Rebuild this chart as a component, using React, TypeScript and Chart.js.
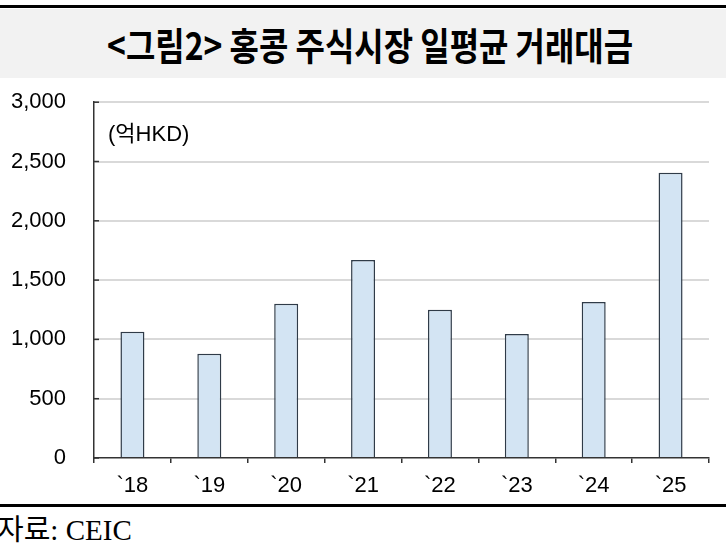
import React, { useEffect, useRef } from "react";
import { Chart, registerables } from "chart.js";

Chart.register(...registerables);

const categories = ["`18", "`19", "`20", "`21", "`22", "`23", "`24", "`25"];
const turnover = [1065, 880, 1300, 1670, 1250, 1045, 1315, 2405];
const yTicks = [0, 500, 1000, 1500, 2000, 2500, 3000];
const titleText = "<그림2> 홍콩 주식시장 일평균 거래대금";
const unitText = "(억HKD)";
const sourceText = "자료: CEIC";

const insideTicks = {
  id: "insideTicks",
  afterDatasetsDraw(chart: any) {
    const y = chart.scales.y;
    const ctx = chart.ctx;
    ctx.save();
    ctx.strokeStyle = "#333333";
    ctx.lineWidth = 1.5;
    for (const v of yTicks) {
      const py = y.getPixelForValue(v);
      ctx.beginPath();
      ctx.moveTo(chart.chartArea.left, py);
      ctx.lineTo(chart.chartArea.left + 5, py);
      ctx.stroke();
    }
    ctx.restore();
  },
};

const unitLabel = {
  id: "unitLabel",
  afterDraw(chart: any) {
    const ctx = chart.ctx;
    const y = chart.scales.y;
    ctx.save();
    ctx.font = "22px 'Liberation Sans', 'Noto Sans CJK KR', sans-serif";
    ctx.fillStyle = "#000";
    ctx.textBaseline = "middle";
    ctx.textAlign = "left";
    ctx.fillText(unitText, chart.chartArea.left + 14, y.getPixelForValue(2725));
    ctx.restore();
  },
};

export default function App() {
  const ref = useRef<HTMLCanvasElement>(null);
  useEffect(() => {
    if (!ref.current) return;
    const chart = new Chart(ref.current, {
      type: "bar",
      data: {
        labels: categories,
        datasets: [
          {
            data: turnover,
            backgroundColor: "#d3e4f3",
            borderColor: "#2f3b48",
            borderWidth: 1.5,
            categoryPercentage: 1,
            barPercentage: 0.312,
          },
        ],
      },
      options: {
        animation: false,
        responsive: false,
        maintainAspectRatio: false,
        layout: { padding: { top: 4, right: 17, left: 0, bottom: 0 } },
        plugins: { legend: { display: false }, tooltip: { enabled: false } },
        scales: {
          x: {
            grid: {
              display: true,
              drawOnChartArea: false,
              drawTicks: true,
              tickLength: 5,
              color: "#333333",
              lineWidth: 1.5,
              offset: true,
            },
            border: { display: true, color: "#333333", width: 1.5 },
            ticks: {
              color: "#000",
              padding: 10,
              font: { family: "'Liberation Sans', Arial, sans-serif", size: 22 },
            },
            afterFit(scale: any) {
              scale.height = 47;
            },
          },
          y: {
            min: 0,
            max: 3000,
            afterBuildTicks(scale: any) {
              scale.ticks = yTicks.map((v) => ({ value: v }));
            },
            grid: {
              drawTicks: false,
              color: (ctx: any) => (ctx.tick && ctx.tick.value === 0 ? "rgba(0,0,0,0)" : "#d9d9d9"),
              lineWidth: 2,
            },
            border: { display: true, color: "#333333", width: 1.5 },
            ticks: {
              color: "#000",
              padding: 28,
              font: { family: "'Liberation Sans', Arial, sans-serif", size: 22 },
              callback: (v: any) => Number(v).toLocaleString("en-US"),
            },
            afterFit(scale: any) {
              scale.width = 94;
            },
          },
        },
      },
      plugins: [insideTicks, unitLabel],
    });
    return () => chart.destroy();
  }, []);

  return (
    <div
      style={{
        position: "fixed",
        left: 0,
        top: 0,
        width: 726,
        height: 557,
        background: "#ffffff",
        overflow: "hidden",
      }}
    >
      <div style={{ position: "absolute", left: 0, top: 5, width: 726, height: 3, background: "#000" }} />
      <div
        style={{
          position: "absolute",
          left: 0,
          top: 9,
          width: 726,
          height: 69,
          background: "#f2f2f2",
          display: "flex",
          alignItems: "center",
          justifyContent: "center",
        }}
      >
        <span
          style={{
            fontFamily: "'Noto Sans CJK KR', sans-serif",
            fontWeight: 700,
            fontSize: 38,
            color: "#000",
            display: "inline-block",
            transform: "scaleX(0.84)",
            whiteSpace: "nowrap",
            marginLeft: 14,
          }}
        >
          {titleText}
        </span>
      </div>
      <canvas
        ref={ref}
        width={726}
        height={444}
        style={{ position: "absolute", left: 0, top: 61, width: 726, height: 444 }}
      />
      <div style={{ position: "absolute", left: 0, top: 504, width: 726, height: 3, background: "#000" }} />
      <div
        style={{
          position: "absolute",
          left: -3,
          top: 510,
          fontFamily: "'Liberation Serif', 'Noto Sans CJK KR', serif",
          fontSize: 29,
          color: "#000",
          whiteSpace: "nowrap",
          lineHeight: "40px",
        }}
      >
        {sourceText}
      </div>
    </div>
  );
}
